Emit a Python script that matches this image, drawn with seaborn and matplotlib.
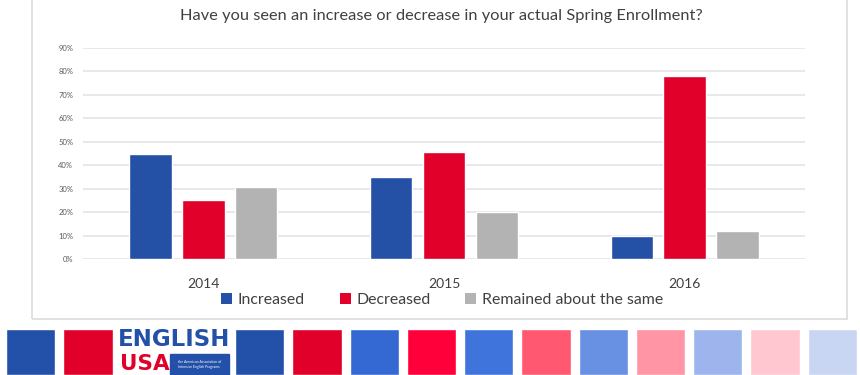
import pandas as pd
import seaborn as sns
import matplotlib.pyplot as plt
from matplotlib.patches import Rectangle, Patch
from matplotlib.ticker import PercentFormatter

# DATA
years = ['2014', '2015', '2016']
answers = ['Increased', 'Decreased', 'Remained about the same']
increased = [0.45, 0.35, 0.10]
decreased = [0.25, 0.455, 0.78]
remained = [0.305, 0.20, 0.12]
y_ticks = [0, 0.1, 0.2, 0.3, 0.4, 0.5, 0.6, 0.7, 0.8, 0.9]

TITLE = 'Have you seen an increase or decrease in your actual Spring Enrollment?'
BAR_COLORS = ['#2450A6', '#E0002A', '#B3B3B3']

# decorative footer strip (slots 2-3 hold the logo)
strip_slots = [0, 1, 4, 5, 6, 7, 8, 9, 10, 11, 12, 13, 14]
strip_colors = ['#2350A8', '#E0002A', '#2350A8', '#E0002A', '#3469D4', '#FF003A',
                '#3F74DC', '#FF5870', '#6890E3', '#FF95A5', '#9DB5EC', '#FFC8D0', '#C8D6F4']

df = pd.DataFrame({
    'year': years * 3,
    'answer': [a for a in answers for _ in years],
    'share': increased + decreased + remained,
})

sns.set_style('white')
plt.rcParams['font.family'] = ['Lato', 'DejaVu Sans']

fig = plt.figure(figsize=(8.6, 3.75), dpi=100)

# outer frame of the chart card
fig.patches.append(Rectangle((32 / 860, 1 - 319 / 375), 815 / 860, 0.2 + 319 / 375,
                             transform=fig.transFigure, fill=False,
                             edgecolor='#DCDCDC', linewidth=1.2, clip_on=False))

ax = fig.add_axes([83 / 860, 1 - 259 / 375, 722 / 860, 211 / 375])
sns.barplot(data=df, x='year', y='share', hue='answer', hue_order=answers,
            palette=BAR_COLORS, saturation=1, errorbar=None,
            width=0.66, gap=0.2, ax=ax, legend=False, zorder=3)

ax.set_xlim(-0.5, 2.5)
ax.set_ylim(0, 0.9)
ax.set_yticks(y_ticks)
ax.yaxis.set_major_formatter(PercentFormatter(1.0, decimals=0))
ax.grid(axis='y', color='#E4E4E4', linewidth=1.2, zorder=0)
ax.set_axisbelow(True)
for s in ax.spines.values():
    s.set_visible(False)
ax.tick_params(axis='y', length=0, labelsize=5.5, labelcolor='#595959', pad=7)
ax.tick_params(axis='x', length=0, labelsize=10, labelcolor='#404040', pad=14)
ax.set_xlabel('')
ax.set_ylabel('')

fig.text(441 / 860, 1 - 16 / 375, TITLE, ha='center', va='center',
         fontsize=11.8, color='#404040')

handles = [Patch(facecolor=c, edgecolor='none') for c in BAR_COLORS]
fig.legend(handles, answers, loc='center', bbox_to_anchor=(442 / 860, 1 - 300 / 375),
           ncol=3, frameon=False, fontsize=11.4, labelcolor='#404040',
           handlelength=0.7, handleheight=0.7, handletextpad=0.35, columnspacing=2.2)

# footer strip
sax = fig.add_axes([2 / 860, 0, 859 / 860, 46 / 375])
sax.bar(strip_slots, [1] * len(strip_slots), width=0.86, color=strip_colors, align='center')
sax.set_xlim(-0.5, 14.5)
sax.set_ylim(0, 1)
sax.axis('off')

# logo in slots 2-3
sax.text(2.5, 1.02, 'ENGLISH', ha='center', va='top', fontsize=16.5, fontweight='bold',
         color='#2350A8', family='DejaVu Sans')
sax.text(1.56, 0.02, 'USA', ha='left', va='bottom', fontsize=15.5, fontweight='bold',
         color='#E0002A', family='DejaVu Sans', zorder=2)
sax.add_patch(Rectangle((2.43, 0), 1.03, 0.46, color='#2350A8', zorder=3))
sax.text(2.945, 0.23, 'the American Association of\nIntensive English Programs', ha='center',
         va='center', fontsize=2.5, color='white', linespacing=1.3, zorder=4)

fig.savefig('out.png', dpi=100)
